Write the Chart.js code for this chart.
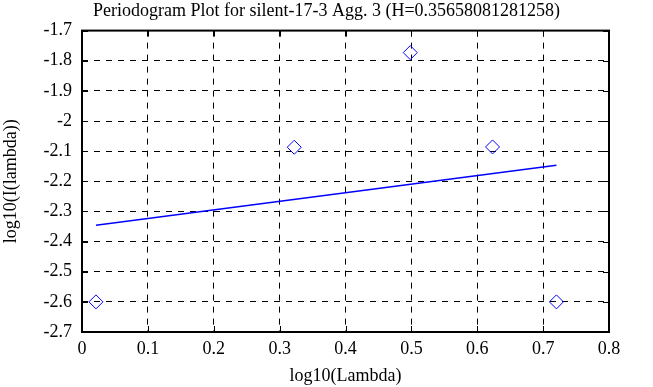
<!DOCTYPE html>
<html><head><meta charset="utf-8">
<script src="https://cdn.jsdelivr.net/npm/chart.js@4"></script>
<style>html,body{margin:0;padding:0;background:#fff}#wrap{width:653px;height:387px}</style>
</head><body><div id="wrap"><canvas id="c" width="653" height="387"></canvas></div>
<script>
const titleText = "Periodogram Plot for silent-17-3 Agg. 3 (H=0.35658081281258)";
const xTitle = "log10(Lambda)";
const yTitle = "log10(I(lambda))";
const pointX = [0.0212, 0.3222, 0.4983, 0.6232, 0.7202];
const pointY = [-2.600, -2.087, -1.773, -2.086, -2.600];
const fitX = [0.0212, 0.7202];
const fitY = [-2.346, -2.147];
const xTicks = [0, 0.1, 0.2, 0.3, 0.4, 0.5, 0.6, 0.7, 0.8];
const yTicks = [-1.7, -1.8, -1.9, -2, -2.1, -2.2, -2.3, -2.4, -2.5, -2.6, -2.7];

const font = "'Liberation Serif', 'DejaVu Serif', serif";

const innerTicks = {
  id: 'innerTicks',
  afterDatasetsDraw(chart) {
    const {ctx, chartArea: a, scales: {x, y}} = chart;
    ctx.save();
    ctx.strokeStyle = '#000';
    ctx.lineWidth = 1;
    ctx.setLineDash([]);
    const L = 6;
    xTicks.forEach(v => {
      const px = Math.round(x.getPixelForValue(v)) + 0.5;
      ctx.beginPath();
      ctx.moveTo(px, a.top); ctx.lineTo(px, a.top + L);
      ctx.moveTo(px, a.bottom); ctx.lineTo(px, a.bottom - L);
      ctx.stroke();
    });
    yTicks.forEach(v => {
      const py = Math.round(y.getPixelForValue(v)) + 0.5;
      ctx.beginPath();
      ctx.moveTo(a.left, py); ctx.lineTo(a.left + L, py);
      ctx.moveTo(a.right, py); ctx.lineTo(a.right - L, py);
      ctx.stroke();
    });
    ctx.lineWidth = 2;
    ctx.strokeRect(a.left, a.top, a.right - a.left, a.bottom - a.top);
    ctx.restore();
  }
};

new Chart(document.getElementById('c'), {
  type: 'scatter',
  data: {
    datasets: [
      {
        data: pointX.map((v, i) => ({x: v, y: pointY[i]})),
        pointStyle: 'rectRot', pointRadius: 7, pointHoverRadius: 7,
        borderColor: '#0000ff', backgroundColor: 'rgba(0,0,0,0)', borderWidth: 1,
        showLine: false
      },
      {
        data: fitX.map((v, i) => ({x: v, y: fitY[i]})),
        showLine: true, borderColor: '#0000ff', borderWidth: 1.5,
        pointRadius: 0, fill: false
      }
    ]
  },
  options: {
    responsive: false, animation: false,
    layout: {padding: 0},
    plugins: {
      legend: {display: false}, tooltip: {enabled: false},
      title: {display: true, text: titleText, color: '#000',
        font: {family: font, size: 18, weight: 'normal'}, padding: {top: 0, bottom: 9}}
    },
    scales: {
      x: {
        type: 'linear', min: 0, max: 0.8,
        afterBuildTicks: s => { s.ticks = xTicks.map(v => ({value: v})); },
        afterFit: s => { s.height = 55; },
        grid: {color: '#000', lineWidth: 1, drawTicks: false, tickLength: 0},
        border: {display: false, dash: [6, 6]},
        ticks: {color: '#000', font: {family: font, size: 18}, padding: 6, maxRotation: 0,
          callback: v => String(Math.round(v * 10) / 10)},
        title: {display: true, text: xTitle, color: '#000', font: {family: font, size: 18}, padding: {top: 0, bottom: 0}}
      },
      y: {
        type: 'linear', min: -2.7, max: -1.7,
        afterBuildTicks: s => { s.ticks = yTicks.map(v => ({value: v})); },
        afterFit: s => { s.width = 82; },
        grid: {color: '#000', lineWidth: 1, drawTicks: false, tickLength: 0},
        border: {display: false, dash: [6, 6]},
        ticks: {color: '#000', font: {family: font, size: 18}, padding: 10,
          callback: v => String(Math.round(v * 10) / 10)},
        title: {display: true, text: yTitle, color: '#000', font: {family: font, size: 18}, padding: {top: 0, bottom: 4}}
      },
      yRight: {
        type: 'linear', position: 'right', min: 0, max: 1, display: true,
        afterFit: s => { s.width = 44; },
        grid: {display: false, drawOnChartArea: false},
        border: {display: false},
        ticks: {display: false}
      }
    }
  },
  plugins: [innerTicks]
});
</script></body></html>
